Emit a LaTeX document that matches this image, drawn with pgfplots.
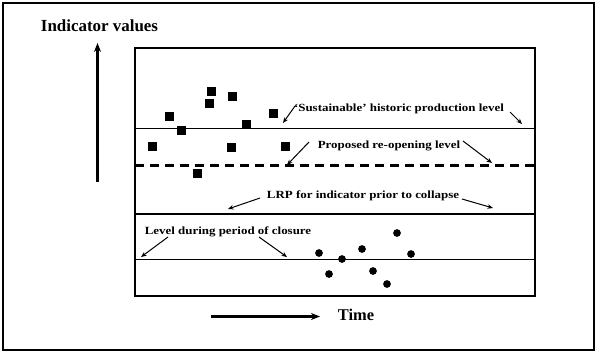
\documentclass[border=0pt]{standalone}
\usepackage{pgfplots}
\pgfplotsset{compat=1.18}
\usetikzlibrary{arrows.meta}
\usepackage{fontspec}
\setmainfont{Liberation Serif}
\begin{document}
\begin{tikzpicture}[
  lbl/.style={font=\fontsize{11}{13}\selectfont\bfseries, xscale=1.18, anchor=base, inner sep=0pt},
  arr/.style={-{Stealth[length=5.5bp,width=4.5bp]}, line width=1bp},
]
\begin{axis}[
  width=400bp, height=248bp, scale only axis,
  xmin=135, xmax=535, ymin=48, ymax=296, y dir=reverse,
  xtick=\empty, ytick=\empty, clip=false,
  axis line style={line width=2.6bp},
]
% invisible bounding box and outer frame
\path (axis cs:0,0) rectangle (axis cs:599,354);
\draw[line width=1.2bp] (axis cs:3,3) rectangle (axis cs:594,350);
% reference levels
\addplot[line width=1.4bp] coordinates {(135,128.3) (535,128.3)};
\addplot[line width=2.7bp, dash pattern=on 9bp off 6bp] coordinates {(135,165.7) (535,165.7)};
\addplot[line width=2.7bp] coordinates {(135,214) (535,214)};
\addplot[line width=0.9bp] coordinates {(135,259.3) (535,259.3)};
% indicator values before closure (squares)
\addplot[only marks, mark=square*, mark size=4bp] coordinates {
(152,146) (169,116) (181,130) (209,103) (211,91) (232,96) (246,124) (231,147) (273,113) (285,146) (197,173)};
% indicator values during closure (circles)
\addplot[only marks, mark=*, mark size=3.6bp] coordinates {
(319,253) (329,274) (342,259) (362,249) (373,271) (387,284) (397,233) (411,254)};
% labels
\node[lbl] at (axis cs:399,111) {`Sustainable' historic production level};
\node[lbl] at (axis cs:389,148) {Proposed re-opening level};
\node[lbl] at (axis cs:363,198) {LRP for indicator prior to collapse};
\node[lbl] at (axis cs:228,234) {Level during period of closure};
% label arrows
\draw[arr] (axis cs:295,106) -- (axis cs:283,123);
\draw[arr] (axis cs:510,112) -- (axis cs:522,124);
\draw[arr] (axis cs:309,142) -- (axis cs:287,165);
\draw[arr] (axis cs:463,141) -- (axis cs:492,163);
\draw[arr] (axis cs:260,198) -- (axis cs:228,209);
\draw[arr] (axis cs:462,199) -- (axis cs:493,208);
\draw[arr] (axis cs:168,237) -- (axis cs:141,257);
\draw[arr] (axis cs:259,237) -- (axis cs:287,257);
% axis arrows and titles
\draw[-{Stealth[length=9bp,width=7bp]}, line width=2.6bp] (axis cs:97.5,182) -- (axis cs:97.5,43);
\draw[-{Stealth[length=9bp,width=7bp]}, line width=2.6bp] (axis cs:211,316.5) -- (axis cs:320,316.5);
\node[font=\fontsize{17}{19}\selectfont\bfseries, anchor=base, inner sep=0pt] at (axis cs:99.5,31) {Indicator values};
\node[font=\fontsize{16.5}{18}\selectfont\bfseries, anchor=base, inner sep=0pt] at (axis cs:356,320) {Time};
\end{axis}
\end{tikzpicture}
\end{document}
